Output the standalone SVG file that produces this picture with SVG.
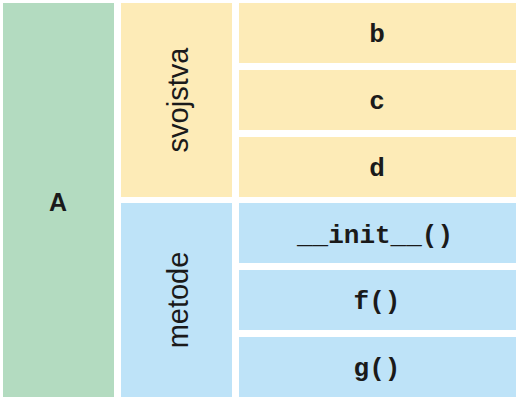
<svg xmlns="http://www.w3.org/2000/svg" width="521" height="403" viewBox="0 0 521 403">
<style>
.g{fill:#b3dbc0}.y{fill:#fdebb7}.b{fill:#bee3f8}
.m{font-family:"Liberation Mono","Courier New",monospace;font-weight:bold;font-size:26px;fill:#1a1a1a;text-anchor:middle;dominant-baseline:central}
.v{font-family:"Liberation Sans",Arial,sans-serif;font-size:29px;fill:#1a1a1a;text-anchor:middle;dominant-baseline:central}
.a{font-family:"Liberation Sans",Arial,sans-serif;font-weight:bold;font-size:25px;fill:#1a1a1a;text-anchor:middle;dominant-baseline:central}
</style>
<rect width="521" height="403" fill="#ffffff"/>
<g id="A"><rect class="g" x="3" y="3" width="111" height="394"/><text class="a" x="58" y="202">A</text></g>
<g id="svojstva"><rect class="y" x="121" y="3" width="111" height="194"/><text class="v" transform="translate(178,100) rotate(-90)">svojstva</text></g>
<g id="metode"><rect class="b" x="121" y="203" width="111" height="194"/><text class="v" transform="translate(178,300) rotate(-90)">metode</text></g>
<g id="b"><rect class="y" x="239" y="3" width="277" height="60"/><text class="m" x="377" y="35">b</text></g>
<g id="c"><rect class="y" x="239" y="70" width="277" height="60"/><text class="m" x="377" y="102">c</text></g>
<g id="d"><rect class="y" x="239" y="137" width="277" height="60"/><text class="m" x="377" y="169">d</text></g>
<g id="init"><rect class="b" x="239" y="203" width="277" height="60"/><text class="m" x="375" y="236">__init__()</text></g>
<g id="f"><rect class="b" x="239" y="270" width="277" height="60"/><text class="m" x="377" y="302">f()</text></g>
<g id="g"><rect class="b" x="239" y="337" width="277" height="60"/><text class="m" x="377" y="369">g()</text></g>
<g id="connectors"></g>
</svg>
